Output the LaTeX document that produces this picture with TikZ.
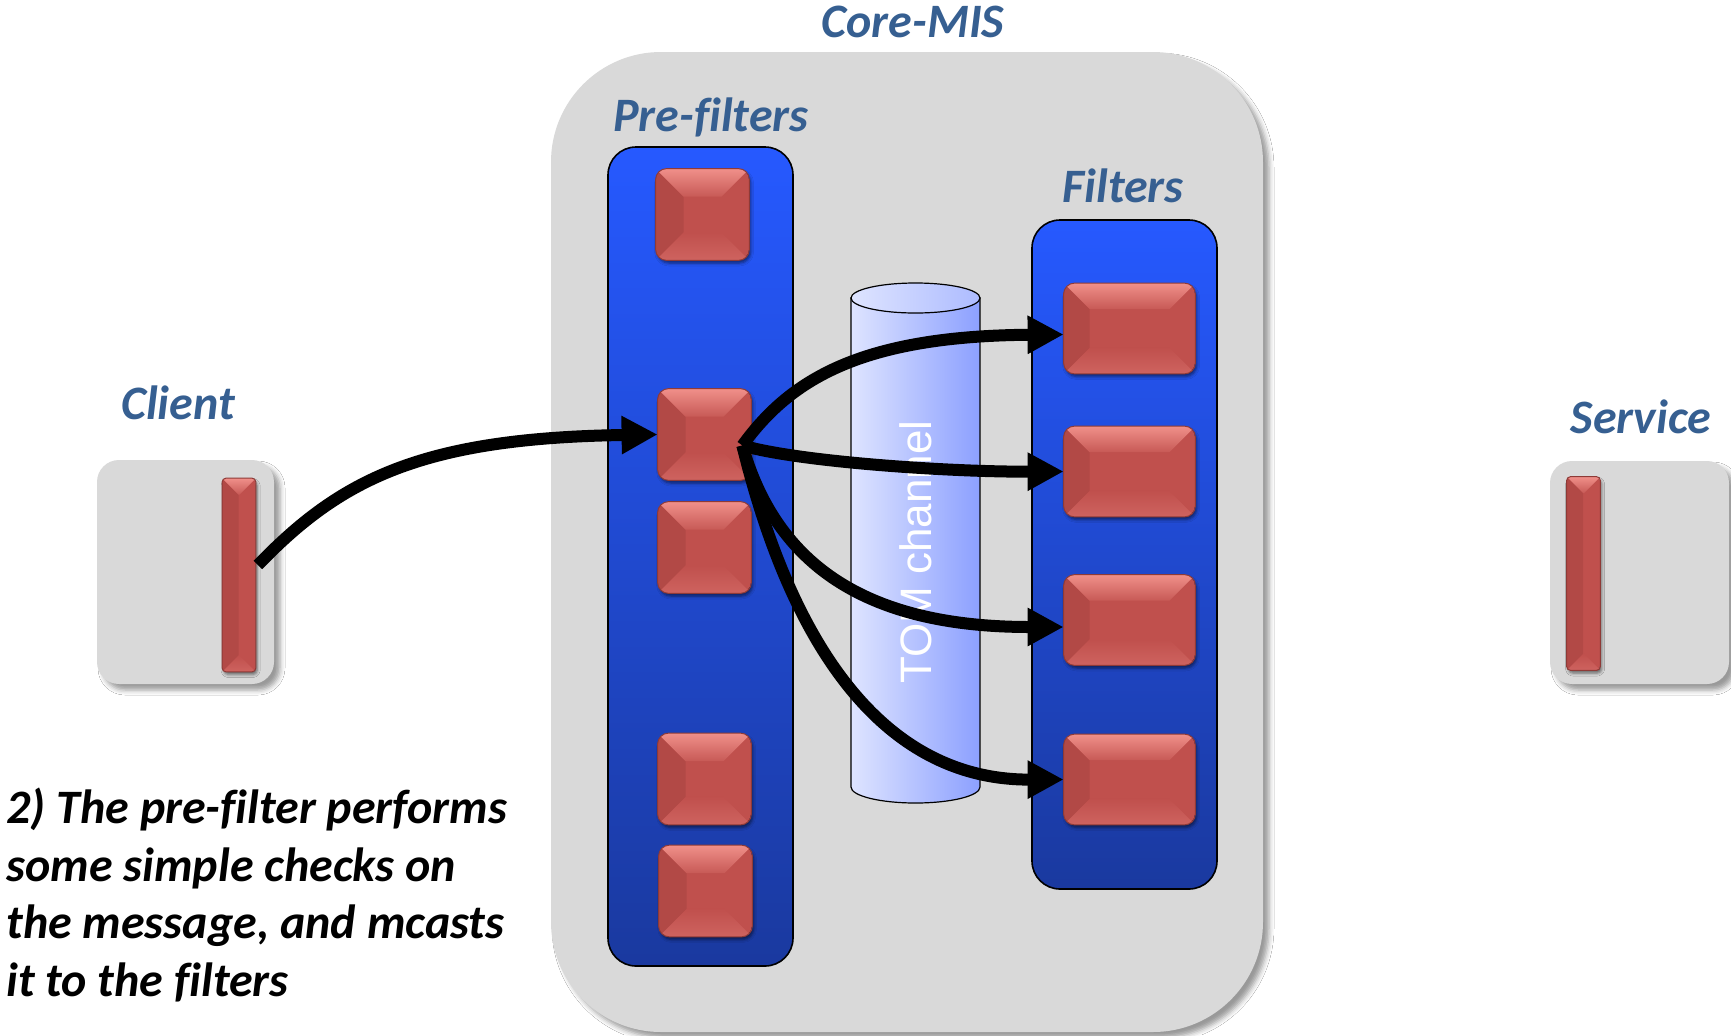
\documentclass[tikz,border=0pt]{standalone}
\usepackage{fontspec}
\setmainfont{Carlito}[Ligatures=NoCommon]
\newfontfamily\chanfont{Liberation Sans}
\usetikzlibrary{arrows.meta,shadows.blur}

\definecolor{panelgrey}{HTML}{D9D9D9}
\definecolor{titleblue}{HTML}{365F91}
\definecolor{redbase}{HTML}{C0504D}
\definecolor{redlight}{HTML}{F0908A}
\definecolor{reddark}{HTML}{B24946}
\definecolor{rededge}{HTML}{8E3A37}
\definecolor{bluetop}{HTML}{2659FF}
\definecolor{bluebot}{HTML}{1A399F}
\definecolor{chanleft}{HTML}{DEE4FF}
\definecolor{chanright}{HTML}{8CA0FF}

\tikzset{
  panel/.style={fill=panelgrey, inner sep=0,
    blur shadow={shadow xshift=3pt, shadow yshift=-3pt, shadow blur radius=2.5pt, shadow opacity=40}},
  title/.style={text=titleblue, font=\fontsize{24}{28}\selectfont\bfseries\itshape, anchor=base, inner sep=0},
  lane/.style={draw=black, line width=0.8pt, top color=bluetop, bottom color=bluebot,
    rounded corners=14pt, inner sep=0},
  redbox/.style={rectangle, rounded corners=5.5pt, fill=redbase, inner sep=0,
    blur shadow={shadow xshift=0.8pt, shadow yshift=-1.5pt, shadow blur radius=1.5pt, shadow opacity=55}},
  sqbox/.style={redbox, minimum width=46.5pt, minimum height=45.5pt},
  widebox/.style={redbox, minimum width=65.5pt, minimum height=45pt},
  barbox/.style={redbox, rounded corners=2pt, minimum width=16.5pt, minimum height=96.5pt},
  flow/.style={line width=6pt, -{Triangle[length=18pt,width=18pt]}},
}

% bevelled faces of a red block: #1 node, #2 bevel depth, #3 corner radius
\newcommand\bevel[3]{%
  \begin{scope}
    \clip[rounded corners=#3] (#1.south west) rectangle (#1.north east);
    \fill[reddark] (#1.north west) -- ([xshift=#2,yshift=-#2]#1.north west)
      -- ([xshift=#2,yshift=#2]#1.south west) -- (#1.south west) -- cycle;
    \shade[top color=redlight, bottom color=redbase!85!redlight] (#1.north west) -- (#1.north east)
      -- ([xshift=-#2,yshift=-#2]#1.north east) -- ([xshift=#2,yshift=-#2]#1.north west) -- cycle;
    \shade[top color=redbase, bottom color=redbase!70!redlight] (#1.south west) -- (#1.south east)
      -- ([xshift=-#2,yshift=#2]#1.south east) -- ([xshift=#2,yshift=#2]#1.south west) -- cycle;
  \end{scope}
  \draw[rededge, line width=0.5pt, rounded corners=#3] (#1.south west) rectangle (#1.north east);
}

\begin{document}
\begin{tikzpicture}[x=0.5pt, y=-0.5pt]
  \useasboundingbox (0,0) rectangle (1731,1035);
  \fill[white] (0,0) rectangle (1731,1035);

  % outer panels
  \node[panel, rounded corners=55pt, minimum width=356pt, minimum height=490pt] (core) at (907,542) {};
  \node[panel, rounded corners=11pt, minimum width=88.5pt, minimum height=112pt] (client) at (185.5,572) {};
  \node[panel, rounded corners=11pt, minimum width=89.5pt, minimum height=111.5pt] (service) at (1639.5,572.5) {};

  % titles
  \node[title] (coretitle) at (913,37) {Core-MIS};
  \node[title] (pretitle) at (711,131) {Pre-filters};
  \node[title] (filtitle) at (1123,202) {Filters};
  \node[title] (clienttitle) at (178,419) {Client};
  \node[title] (servicetitle) at (1641,433) {Service};

  % filter lanes
  \node[lane, minimum width=92.5pt, minimum height=409.5pt] (prelane) at (700.5,556.5) {};
  \node[lane, minimum width=92.5pt, minimum height=334.5pt] (fillane) at (1124.5,554.5) {};

  % pre-filter blocks
  \node[sqbox] (p1) at (702.5,214.5) {};
  \node[sqbox] (p2) at (704.5,434.5) {};
  \node[sqbox] (p3) at (704.5,547.5) {};
  \node[sqbox] (p4) at (704.5,779) {};
  \node[sqbox] (p5) at (705.5,891) {};
  % filter blocks
  \node[widebox] (f1) at (1129.5,328.5) {};
  \node[widebox] (f2) at (1129.5,471.5) {};
  \node[widebox] (f3) at (1129.5,620) {};
  \node[widebox] (f4) at (1129.5,779.5) {};
  % endpoint bars
  \node[barbox] (cbar) at (239,575) {};
  \node[barbox] (sbar) at (1583.5,573.5) {};

  \foreach \n in {p1,p2,p3,p4,p5} {\bevel{\n}{14pt}{5.5pt}}
  \foreach \n in {f1,f2,f3,f4} {\bevel{\n}{13pt}{5.5pt}}
  \foreach \n in {cbar,sbar} {\bevel{\n}{8.25pt}{2pt}}

  % TOM channel cylinder
  \shade[left color=chanleft, right color=chanright, draw=black, line width=0.6pt]
    (851,298) -- (851,787) arc[start angle=180, end angle=0, x radius=64.5, y radius=16] -- (980,298) -- cycle;
  \shade[left color=chanleft, right color=chanright!60!chanleft, draw=black, line width=0.6pt]
    (915.5,298) ellipse[x radius=64.5, y radius=15];
  \node[rotate=90, text=white, font=\chanfont\fontsize{22}{22}\selectfont, inner sep=0] (tomlabel) at (916,552) {TOM channel};

  % explanatory note
  \node[anchor=north west, align=left, inner sep=0,
        font=\fontsize{24}{28.7}\selectfont\bfseries\itshape] (note) at (6,788)
    {2) The pre-filter performs\\some simple checks on\\the message, and mcasts\\it to the filters};

  % message flow
  \coordinate (hub) at ([xshift=-4.5pt,yshift=-5.5pt]p2.east);
  \draw[flow] ([xshift=1pt,yshift=5pt]cbar.east) .. controls (340,480) and (420,438) .. (p2.west);
  \draw[flow] (hub) .. controls (790,380) and (860,336) .. ([yshift=-3pt]f1.west);
  \draw[flow] (hub) .. controls (800,462) and (950,472) .. (f2.west);
  \draw[flow] (hub) .. controls (775,560) and (860,627) .. ([yshift=-3.5pt]f3.west);
  \draw[flow] (hub) .. controls (790,640) and (880,780) .. (f4.west);
\end{tikzpicture}
\end{document}
